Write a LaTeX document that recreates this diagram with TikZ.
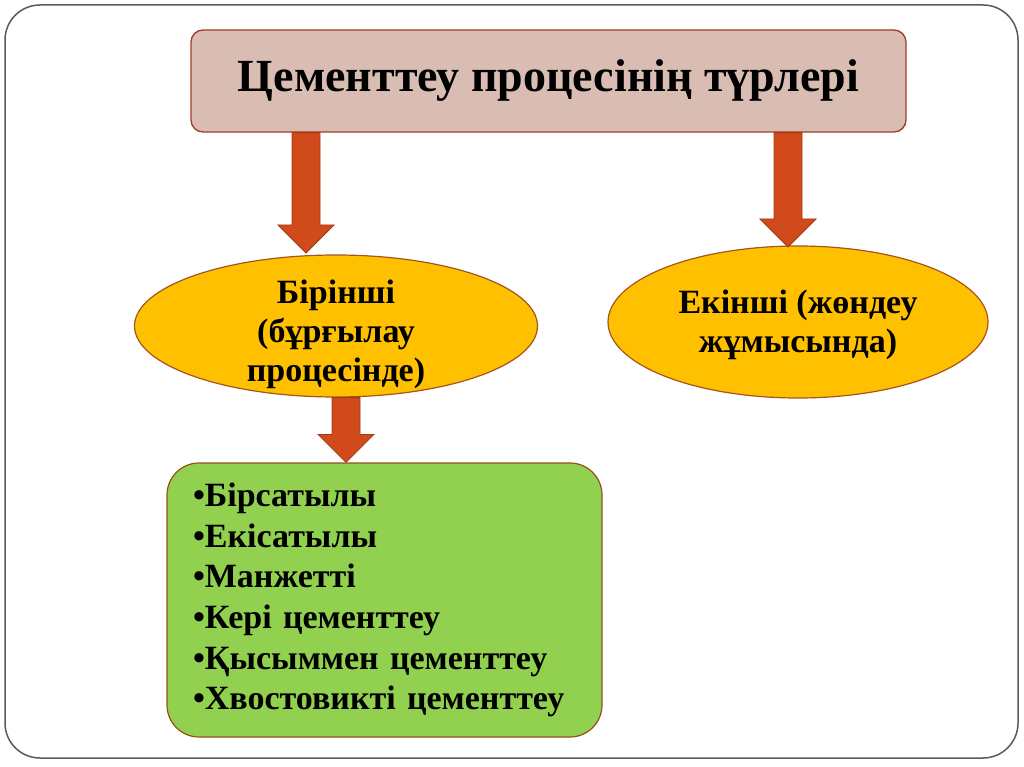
\documentclass[tikz,border=0pt]{standalone}
\usepackage{fontspec}
\setmainfont{Liberation Serif}
\usetikzlibrary{shapes.geometric,calc}
\definecolor{titlefill}{RGB}{217,189,179}
\definecolor{titleline}{RGB}{160,60,35}
\definecolor{arrfill}{RGB}{209,74,27}
\definecolor{arrline}{RGB}{160,58,22}
\definecolor{ellfill}{RGB}{255,192,0}
\definecolor{ellline}{RGB}{165,85,30}
\definecolor{greenfill}{RGB}{146,208,80}
\definecolor{greenline}{RGB}{150,80,30}
\definecolor{slideframe}{RGB}{90,90,90}
\newcommand\blockarr[2]{%
  \draw[blockarrow] let \p1=(#1), \p2=(#2) in
    (\x1-14pt,\y1) -- (\x1-14pt,\y2+28pt) -- (\x1-28pt,\y2+28pt) -- (\x1,\y2)
    -- (\x1+28pt,\y2+28pt) -- (\x1+14pt,\y2+28pt) -- (\x1+14pt,\y1) -- cycle;}
\begin{document}
\begin{tikzpicture}[x=1pt,y=-1pt,
  blockarrow/.style={fill=arrfill,draw=arrline,line width=0.8pt,line join=miter},
  titlebox/.style={draw=titleline,fill=titlefill,line width=1.3pt,rounded corners=12pt,
    minimum width=715pt,minimum height=102pt,inner sep=0pt,
    font=\fontsize{46}{50}\selectfont\bfseries},
  ell/.style={ellipse,draw=ellline,fill=ellfill,line width=1.2pt,inner sep=0pt},
  elltext/.style={align=center,inner sep=0pt,font=\fontsize{34}{39}\selectfont\bfseries},
  listbox/.style={draw=greenline,fill=greenfill,line width=1.2pt,rounded corners=32pt,
    minimum width=435pt,minimum height=274pt,inner xsep=0pt,inner ysep=0pt,
    text width=383pt,align=left,font=\fontsize{34}{40.6}\selectfont\bfseries}]
\useasboundingbox (0,0) rectangle (1024,767);
\fill[white] (0,0) rectangle (1024,767);
\draw[slideframe,line width=1.5pt,rounded corners=35pt] (5,5) rectangle (1018,758);

\node[titlebox] (title) at (548.5,81) {Цементтеу процесінің түрлері};

\node[ell,minimum width=403pt,minimum height=142pt] (e1) at (336,326) {};
\node[elltext] (e1t) at (336,334) {Бірінші\\(бұрғылау\\процесінде)};

\node[ell,minimum width=380pt,minimum height=152pt] (e2) at (798,322) {};
\node[elltext] (e2t) at (798,325) {Екінші (жөндеу\\жұмысында)};

\node[listbox] (list) at (384.5,600) {•Бірсатылы\\•Екісатылы\\•Манжетті\\•Кері цементтеу\\•Қысыммен цементтеу\\•Хвостовикті цементтеу};

\coordinate (a1s) at (title.south -| 306,0);
\coordinate (a1e) at (306,253);
\coordinate (a2s) at (title.south -| 788,0);
\coordinate (a2e) at (788,247);
\coordinate (a3s) at (e1.south -| 346,0);
\coordinate (a3e) at (list.north -| 346,0);
\blockarr{a1s}{a1e}
\blockarr{a2s}{a2e}
\blockarr{a3s}{a3e}
\end{tikzpicture}
\end{document}
